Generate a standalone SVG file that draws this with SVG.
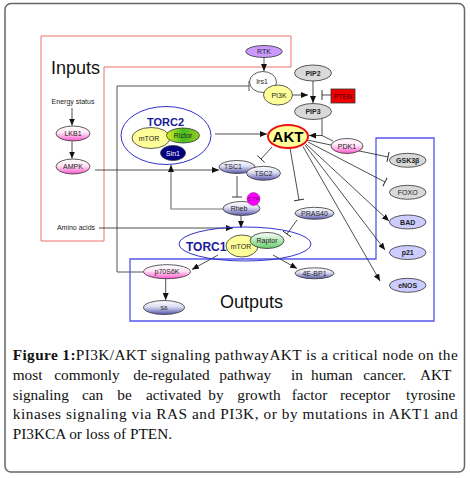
<svg xmlns="http://www.w3.org/2000/svg" width="470" height="478" viewBox="0 0 470 478">
<style>
.lbl{font-family:"Liberation Sans",Arial,sans-serif;font-size:7px;fill:#222;text-anchor:middle}
.b{font-weight:bold}
.nd{stroke:#333;stroke-width:0.8}
.c{fill:none;stroke:#222;stroke-width:0.8}
.g{fill:none;stroke:#777;stroke-width:1.2}
.big{font-family:"Liberation Sans",Arial,sans-serif;font-size:18px;fill:#111}
.torc{font-family:"Liberation Sans",Arial,sans-serif;font-weight:bold;fill:#1a1a99}
.cap{font-family:"Liberation Serif","Times New Roman",serif;font-size:15.3px;fill:#111}
</style>
<defs>
<linearGradient id="pink" x1="0" y1="0" x2="0" y2="1"><stop offset="0" stop-color="#ffffff"/><stop offset="0.45" stop-color="#ffe6f5"/><stop offset="1" stop-color="#ff55cc"/></linearGradient>
<linearGradient id="blue" x1="0" y1="0" x2="0" y2="1"><stop offset="0" stop-color="#ffffff"/><stop offset="0.45" stop-color="#dcdcf2"/><stop offset="1" stop-color="#5555aa"/></linearGradient>
<linearGradient id="green" x1="0" y1="0" x2="0" y2="1"><stop offset="0" stop-color="#ffffff"/><stop offset="1" stop-color="#66cc66"/></linearGradient>
<linearGradient id="rictor" x1="0" y1="0" x2="1" y2="0"><stop offset="0" stop-color="#ddee22"/><stop offset="0.5" stop-color="#44bb22"/><stop offset="1" stop-color="#99cc22"/></linearGradient>
<marker id="arr" viewBox="0 0 7 6" refX="7" refY="3" markerWidth="7" markerHeight="6" markerUnits="userSpaceOnUse" orient="auto"><path d="M0,0 L7,3 L0,6 z" fill="#111"/></marker>
<marker id="tee" viewBox="0 0 2 10" refX="1" refY="5" markerWidth="2" markerHeight="10" markerUnits="userSpaceOnUse" orient="auto"><path d="M1,0 V10" stroke="#222" stroke-width="0.9"/></marker>
<marker id="teeg" viewBox="0 0 2 10" refX="1" refY="5" markerWidth="2" markerHeight="10" markerUnits="userSpaceOnUse" orient="auto"><path d="M1,0 V10" stroke="#555" stroke-width="1"/></marker>
</defs>

<rect x="5" y="3.5" width="459.5" height="468.5" rx="6" fill="#fff" stroke="#666" stroke-width="1.5"/>

<g id="frames">
<polygon points="41,36 291,36 291,67 104,67 104,241 41,241" fill="none" stroke="#f07070" stroke-width="1"/>
<polygon points="130,259 376,259 376,138 434,138 434,321 130,321" fill="none" stroke="#5555ee" stroke-width="1.3"/>
<text class="big" x="51" y="74">Inputs</text>
<text class="big" x="220" y="308">Outputs</text>
<text class="lbl" x="73" y="104">Energy status</text>
<text class="lbl" x="76" y="230">Amino acids</text>
</g>

<g id="connectors">
<line class="g" x1="264" y1="57.5" x2="264" y2="71" marker-end="url(#arr)"/>
<polyline points="143.5,272 117,272 117,86 249,86" fill="none" stroke="#555" stroke-width="1" marker-end="url(#teeg)"/>
<line class="c" x1="293" y1="95" x2="308" y2="95" marker-end="url(#arr)"/>
<line class="c" x1="313" y1="81" x2="313" y2="103" marker-end="url(#arr)"/>
<line class="c" x1="331" y1="95" x2="322" y2="95" marker-end="url(#tee)"/>
<polyline class="c" points="322,118.5 322,135.5 309,135.5" marker-end="url(#arr)"/>
<line class="c" x1="322" y1="135.5" x2="333" y2="141"/>
<line class="c" x1="215" y1="134" x2="267" y2="134" marker-end="url(#arr)"/>
<line class="c" x1="72" y1="108" x2="72" y2="125.5" marker-end="url(#arr)"/>
<line class="c" x1="72" y1="141.5" x2="72" y2="158.5" marker-end="url(#arr)"/>
<line class="c" x1="95" y1="170" x2="219" y2="170" marker-end="url(#arr)"/>
<line class="c" x1="272" y1="147" x2="261" y2="159" marker-end="url(#tee)"/>
<line class="c" x1="237" y1="176" x2="237" y2="197" marker-end="url(#tee)"/>
<polyline class="g" points="223,209 171,209 171,165" marker-end="url(#arr)"/>
<line class="c" x1="241" y1="215.5" x2="241" y2="228" marker-end="url(#arr)"/>
<line class="c" x1="99" y1="228" x2="233" y2="228" marker-end="url(#arr)"/>
<line class="c" x1="290" y1="148" x2="299" y2="200" marker-end="url(#tee)"/>
<line class="c" x1="297" y1="220" x2="287" y2="234" marker-end="url(#tee)"/>
<line class="c" x1="218" y1="255" x2="192" y2="269.5" marker-end="url(#arr)"/>
<line class="c" x1="273" y1="255" x2="297" y2="268.5" marker-end="url(#arr)"/>
<line class="c" x1="165.7" y1="279" x2="165.7" y2="300" marker-end="url(#arr)"/>
<line class="c" x1="307" y1="140" x2="388" y2="157" marker-end="url(#tee)"/>
<line class="c" x1="308" y1="142" x2="385" y2="182" marker-end="url(#tee)"/>
<line class="c" x1="306" y1="144" x2="389" y2="221" marker-end="url(#arr)"/>
<line class="c" x1="305" y1="145" x2="385" y2="250" marker-end="url(#arr)"/>
<line class="c" x1="303" y1="146.5" x2="380" y2="281" marker-end="url(#arr)"/>
</g>

<g id="RTK"><ellipse class="nd" cx="264" cy="51.5" rx="18.3" ry="6" fill="#cc99ff"/><text class="lbl" x="264" y="54">RTK</text></g>
<g id="Irs1"><ellipse class="nd" cx="263" cy="82" rx="13.5" ry="10.5" fill="#fff"/><text class="lbl" x="262" y="84">Irs1</text></g>
<g id="PI3K"><ellipse class="nd" cx="278" cy="95" rx="14.5" ry="10" fill="#ffff99"/><text class="lbl" x="279" y="97.5">PI3K</text></g>
<g id="PIP2"><ellipse class="nd" cx="313" cy="73" rx="18.5" ry="8" fill="#d9d9d9"/><text class="lbl b" x="313" y="75.5">PIP2</text></g>
<g id="PIP3"><ellipse class="nd" cx="313" cy="111.5" rx="18.5" ry="8" fill="#d9d9d9"/><text class="lbl b" x="313" y="114">PIP3</text></g>
<g id="PTEN"><rect class="nd" x="331" y="89" width="24" height="14" fill="#ee0000"/><text class="lbl" x="343" y="98.5" style="fill:#400">PTEN</text></g>

<g id="TORC2">
<ellipse cx="166" cy="135.5" rx="45" ry="29" fill="#fff" stroke="#3333cc" stroke-width="1"/>
<text class="torc" x="147" y="126" style="font-size:11px">TORC2</text>
<ellipse class="nd" cx="151" cy="138" rx="19" ry="10.5" fill="#ffff99"/>
<text class="lbl" x="149" y="140.5">mTOR</text>
<ellipse class="nd" cx="183" cy="135.5" rx="16.5" ry="7.5" fill="url(#rictor)"/>
<text class="lbl" x="183" y="138">Rictor</text>
<ellipse class="nd" cx="173" cy="153" rx="12.5" ry="7.5" fill="#000080"/>
<text class="lbl" x="173" y="155.5" style="fill:#fff">Sin1</text>
</g>

<g id="AKT"><ellipse cx="288" cy="136.5" rx="20" ry="11.5" fill="#ffff99" stroke="#ee1111" stroke-width="2"/><text class="lbl b" x="288" y="141.5" style="font-size:15px;fill:#000">AKT</text></g>
<g id="PDK1"><ellipse class="nd" cx="347" cy="146" rx="16" ry="7.5" fill="url(#pink)"/><text class="lbl" x="347" y="148.5">PDK1</text></g>

<g id="LKB1"><ellipse class="nd" cx="73" cy="133.5" rx="17" ry="7.5" fill="url(#pink)"/><text class="lbl" x="73" y="136">LKB1</text></g>
<g id="AMPK"><ellipse class="nd" cx="73" cy="166.5" rx="17" ry="7.5" fill="url(#pink)"/><text class="lbl" x="73" y="169">AMPK</text></g>

<g id="TSC1"><ellipse class="nd" cx="237" cy="167" rx="18" ry="6.5" fill="url(#blue)"/><text class="lbl" x="233" y="169">TSC1</text></g>
<g id="TSC2"><ellipse class="nd" cx="263.5" cy="173.3" rx="17" ry="7" fill="url(#blue)"/><text class="lbl" x="263.5" y="175.8">TSC2</text></g>

<g id="Rheb"><ellipse class="nd" cx="241.5" cy="208.5" rx="18.5" ry="7" fill="url(#blue)"/><text class="lbl" x="239" y="211">Rheb</text>
<circle cx="253.5" cy="199" r="6.5" fill="#ff00ff" stroke="#993399" stroke-width="0.6"/><text class="lbl" x="253.5" y="201.2" style="font-size:6px;fill:#770077">GTP</text></g>

<g id="PRAS40"><ellipse class="nd" cx="314.5" cy="213.3" rx="19.5" ry="6" fill="url(#blue)"/><text class="lbl" x="314.5" y="215.8">PRAS40</text></g>

<g id="TORC1">
<ellipse cx="245" cy="244" rx="66" ry="17" fill="none" stroke="#3333cc" stroke-width="1"/>
<text class="torc" x="186" y="251" style="font-size:12px">TORC1</text>
<ellipse class="nd" cx="242" cy="246" rx="16" ry="11" fill="#ffff99"/>
<text class="lbl" x="241" y="248.5">mTOR</text>
<ellipse class="nd" cx="267" cy="240.5" rx="17" ry="8" fill="url(#green)"/>
<text class="lbl" x="267" y="243">Raptor</text>
</g>

<g id="p70S6K"><ellipse class="nd" cx="167" cy="271.7" rx="23.5" ry="7" fill="url(#pink)"/><text class="lbl" x="167" y="274.2">p70S6K</text></g>
<g id="S6"><ellipse class="nd" cx="164" cy="307.5" rx="20.5" ry="7" fill="url(#blue)"/><text class="lbl" x="164" y="310" style="font-size:6px">S6</text></g>
<g id="4E-BP1"><ellipse class="nd" cx="314.5" cy="273.3" rx="19.5" ry="5.5" fill="url(#blue)"/><text class="lbl" x="314.5" y="275.8">4E-BP1</text></g>

<g id="GSK3b"><ellipse class="nd" cx="407.7" cy="160.3" rx="18.3" ry="7" fill="#d9d9d9"/><text class="lbl b" x="407.7" y="162.8">GSK3β</text></g>
<g id="FOXO"><ellipse class="nd" cx="407.7" cy="192.3" rx="18.3" ry="7" fill="#d9d9d9"/><text class="lbl" x="407.7" y="194.8">FOXO</text></g>
<g id="BAD"><ellipse class="nd" cx="407.7" cy="222" rx="18.3" ry="7" fill="#ccccff"/><text class="lbl b" x="407.7" y="224.5">BAD</text></g>
<g id="p21"><ellipse class="nd" cx="407.7" cy="252.5" rx="18.3" ry="7" fill="#ccccff"/><text class="lbl b" x="407.7" y="255">p21</text></g>
<g id="eNOS"><ellipse class="nd" cx="407.7" cy="285.3" rx="18.3" ry="7" fill="#ccccff"/><text class="lbl b" x="407.7" y="287.8">eNOS</text></g>

<g id="caption">
<text class="cap" x="12.7" y="360" textLength="445" lengthAdjust="spacing"><tspan font-weight="bold">Figure 1:</tspan>PI3K/AKT signaling pathwayAKT is a critical node on the</text>
<text class="cap" y="380"><tspan x="12.7">most</tspan><tspan x="54.3">commonly</tspan><tspan x="133.3">de-regulated</tspan><tspan x="219.3">pathway</tspan><tspan x="291">in</tspan><tspan x="311">human</tspan><tspan x="363.3">cancer.</tspan><tspan x="420">AKT</tspan></text>
<text class="cap" y="400"><tspan x="12.7">signaling</tspan><tspan x="82">can</tspan><tspan x="117.3">be</tspan><tspan x="146">activated</tspan><tspan x="208.3">by</tspan><tspan x="237.3">growth</tspan><tspan x="291.7">factor</tspan><tspan x="340">receptor</tspan><tspan x="406">tyrosine</tspan></text>
<text class="cap" x="12.7" y="419" textLength="445" lengthAdjust="spacing">kinases signaling via RAS and PI3K, or by mutations in AKT1 and</text>
<text class="cap" x="12.7" y="439">PI3KCA or loss of PTEN.</text>
</g>
</svg>
